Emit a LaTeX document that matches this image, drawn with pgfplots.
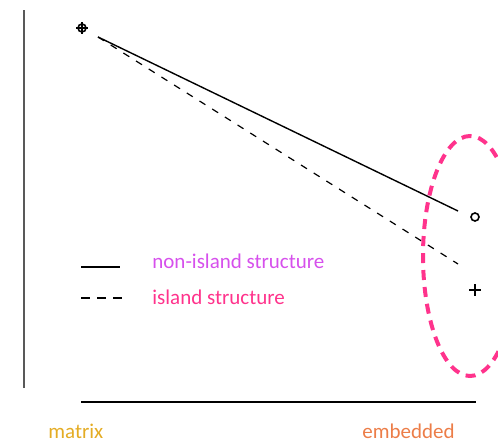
\documentclass[border=0pt]{standalone}
\usepackage{fontspec}
\setmainfont{Carlito}
\usepackage{pgfplots}
\pgfplotsset{compat=1.18}

\definecolor{goldlbl}{RGB}{228,172,36}
\definecolor{orangelbl}{RGB}{236,125,72}
\definecolor{magentalbl}{RGB}{214,80,236}
\definecolor{pinklbl}{RGB}{255,51,140}

\begin{document}
\begin{tikzpicture}
\begin{axis}[
    width=249pt, height=220.5pt,
    scale only axis,
    xmin=0, xmax=498,
    ymin=0, ymax=441,
    hide axis,
    clip=true,
    font=\fontsize{10.5}{12}\selectfont,
]
% frame lines
\addplot[gray!70!black, line width=0.8pt] coordinates {(24,53) (24,431)};
\addplot[black, line width=1pt] coordinates {(81,39) (476,39)};

% the two trends
\addplot[black, line width=0.7pt] coordinates {(98,404) (458,230)};
\addplot[black, line width=0.6pt, dash pattern=on 3.5pt off 4pt] coordinates {(98,404) (458,177)};

% markers
\addplot[only marks, mark=o, mark size=2pt, black, line width=0.8pt] coordinates {(82,413) (475,224)};
\addplot[only marks, mark=+, mark size=2.8pt, black, line width=0.8pt] coordinates {(82,413) (475,151)};

% legend
\addplot[black, line width=0.7pt] coordinates {(81,174) (120,174)};
\addplot[black, line width=0.7pt, dash pattern=on 4.5pt off 3.5pt] coordinates {(81,143) (122,143)};
\node[anchor=west, text=magentalbl, inner sep=0pt] at (axis cs:152,180) {non-island structure};
\node[anchor=west, text=pinklbl, inner sep=0pt] at (axis cs:152,144) {island structure};

% category labels
\node[anchor=west, text=goldlbl, inner sep=0pt] at (axis cs:48,10) {matrix};
\node[anchor=west, text=orangelbl, inner sep=0pt] at (axis cs:362,10) {embedded};

% highlight
\draw[pinklbl, line width=2pt, dash pattern=on 5pt off 3.5pt] (axis cs:470,185) ellipse [x radius=23.5pt, y radius=60pt];
\end{axis}
\pgfresetboundingbox
\useasboundingbox (current axis.south west) rectangle (current axis.north east);
\end{tikzpicture}
\end{document}
